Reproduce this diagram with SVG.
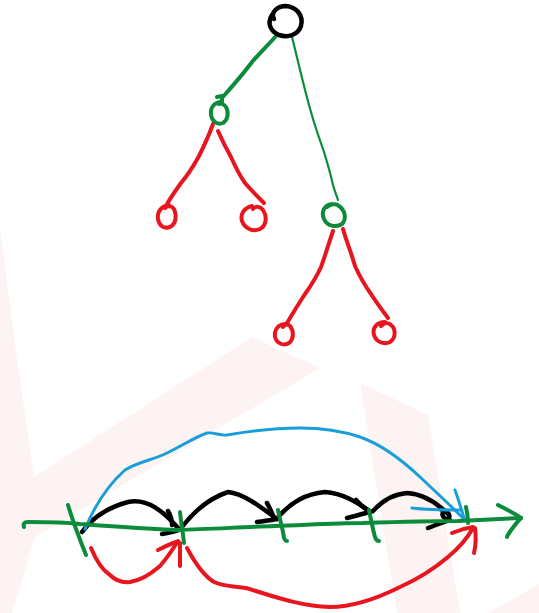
<svg xmlns="http://www.w3.org/2000/svg" width="539" height="613" viewBox="0 0 539 613">
  <style>
    .ink { fill: none; stroke-linecap: round; stroke-linejoin: round; }
    .k { stroke: #000000; stroke-width: 4.5; }
    .g { stroke: #0c8c3b; stroke-width: 4; }
    .gt { stroke: #0c8c3b; stroke-width: 2.2; }
    .r { stroke: #e8151f; stroke-width: 4; }
    .b { stroke: #199fd8; stroke-width: 3; }
    .wm { fill: #fdf3f3; stroke: none; }
  </style>

  <!-- faint background mark -->
  <g id="backdrop">
    <polygon class="wm" points="0,228 16,352 34,477 252,337 320,368 35,537 12,613 0,613"/>
    <polygon class="wm" points="360,383 428,415 460,613 397,613"/>
    <polygon class="wm" points="488,613 539,584 539,613"/>
  </g>

  <!-- tree edges and number-line jumps -->
  <g id="connectors">
    <!-- root to children -->
    <path class="ink g" stroke-width="4.5" d="M277,35 C268,45 258,55 252,62 C244,73 236,82 222,98"/>
    <path class="ink g" d="M217,97 L222,96 L222,101"/>
    <path class="ink gt" d="M292,37 C299,65 305,92 311,112 C316,130 320,140 324,152 C328,165 331,176 333,185 C335,192 337,197 338,200"/>
    <!-- left subtree -->
    <path class="ink r" d="M213,124 C209,135 204,146 199,156 C193,167 187,176 181,183 C176,190 171,197 167,204"/>
    <path class="ink r" d="M218,131 C222,140 227,150 231,157 C235,166 240,176 245,183 C251,190 257,196 264,203"/>
    <!-- right subtree -->
    <path class="ink r" d="M333,231 C329,243 325,256 321,267 C316,278 310,287 305,294 C299,303 293,313 287,323"/>
    <path class="ink r" d="M343,229 C346,240 351,252 355,266 C360,277 366,287 371,294 C376,302 382,310 388,318"/>

    <!-- black +1 jumps -->
    <path class="ink k" stroke-width="3.8" d="M82,532 C92,518 106,508 128,502 C148,498 164,512 179,529"/>
    <path class="ink k" stroke-width="3.4" d="M168,511 C171,516 172,521 172,525 M162,534 C169,533 174,532 179,530"/>
    <path class="ink k" stroke-width="3.8" d="M182,527 C195,510 210,498 228,492 C245,494 262,508 277,519"/>
    <path class="ink k" stroke-width="3.4" d="M267,503 C270,508 272,513 274,518 M257,522 C265,521 271,520 277,519"/>
    <path class="ink k" stroke-width="3.8" d="M279,516 C292,502 305,494 325,492 C343,493 358,503 371,512"/>
    <path class="ink k" stroke-width="3.4" d="M356,500 C360,505 364,508 369,511 M347,518 C355,516 362,514 370,512"/>
    <path class="ink k" stroke-width="3.8" d="M373,511 C383,500 394,494 407,493 C424,494 437,503 448,514"/>
    <path class="ink k" stroke-width="4.2" d="M440,509 C446,510 451,514 449,518 C446,520 441,517 443,512 M428,528 C436,525 443,522 450,520"/>

    <!-- blue long jump -->
    <path class="ink b" d="M85,529 C95,505 108,485 125,470 C138,462 152,460 165,454 C180,447 195,437 207,433 C214,432 220,436 227,435 C250,431 275,428 300,428 C325,428 345,432 360,437 C383,445 402,460 420,477 C436,492 452,507 464,519"/>
    <path class="ink b" stroke-width="3.2" d="M455,490 C458,498 461,508 464,518 M412,508 C428,510 445,510 462,510"/>

    <!-- red jumps underneath -->
    <path class="ink r" d="M91,548 C96,560 102,570 110,575 C116,581 122,583 130,582 C143,580 152,573 160,566 C167,558 173,549 178,541"/>
    <path class="ink r" stroke-width="3.8" d="M158,550 C164,547 170,544 176,542 M180,543 C180,551 180,559 180,566"/>
    <path class="ink r" d="M187,548 C195,563 204,576 214,582 C225,587 236,586 246,588 C270,595 298,606 330,607 C355,607 380,597 400,587 C418,579 435,568 448,557 C460,547 468,537 473,528"/>
    <path class="ink r" stroke-width="3.8" d="M452,533 C459,530 466,528 473,527 M475,528 C476,536 476,545 474,553"/>
  </g>

  <!-- tree nodes -->
  <g id="root">
    <path class="ink k" d="M274,19 C270,12 278,6 286,6 C296,7 304,15 301,26 C298,35 288,38 279,35 C270,31 267,23 272,15"/>
  </g>
  <g id="n-left">
    <path class="ink g" d="M222,102 C214,102 210,108 211,115 C212,122 218,125 223,123 C228,120 229,112 226,107 C224,104 221,103 219,104"/>
  </g>
  <g id="n-right">
    <path class="ink g" d="M332,204 C324,205 321,212 324,219 C327,226 336,228 342,224 C347,219 345,210 339,206 C336,203 330,204 327,207"/>
  </g>
  <g id="leaf-1">
    <path class="ink r" d="M169,205 C161,206 157,212 158,219 C159,226 164,229 170,227 C176,224 177,216 174,209 C172,206 168,205 165,208"/>
  </g>
  <g id="leaf-2">
    <path class="ink r" d="M252,206 C244,208 240,214 242,221 C245,229 253,232 260,229 C267,225 267,216 263,210 C260,206 255,206 253,209"/>
  </g>
  <g id="leaf-3">
    <path class="ink r" d="M286,324 C278,324 274,330 275,337 C277,344 284,346 289,343 C294,339 294,331 290,326 C288,324 285,324 283,327"/>
  </g>
  <g id="leaf-4">
    <path class="ink r" d="M385,322 C377,322 372,328 374,335 C376,342 384,345 390,342 C396,338 396,329 391,325 C388,322 384,323 381,326"/>
  </g>

  <!-- number line -->
  <g id="axis">
    <path class="ink g" d="M24,527 C23,524 24,522 28,522 C45,522 62,522 80,524 C110,526 145,529 178,530 C210,529 245,527 275,526 C305,525 335,523 362,523 C395,522 430,521 458,521 C480,520 502,519 521,518"/>
    <path class="ink g" d="M498,505 C506,509 514,513 521,518 C516,523 512,529 509,533 C508,535 507,536 507,537"/>
    <path class="ink g" d="M68,505 C73,522 80,540 86,555"/>
    <path class="ink g" d="M180,512 C181,522 183,533 184,543"/>
    <path class="ink g" d="M278,510 C280,520 283,530 284,538 C285,540 286,541 287,541"/>
    <path class="ink g" d="M369,510 C371,520 373,530 375,537 C376,540 377,541 379,541"/>
    <path class="ink g" stroke-width="3.5" d="M466,507 C467,512 468,517 468,523"/>
  </g>
</svg>
